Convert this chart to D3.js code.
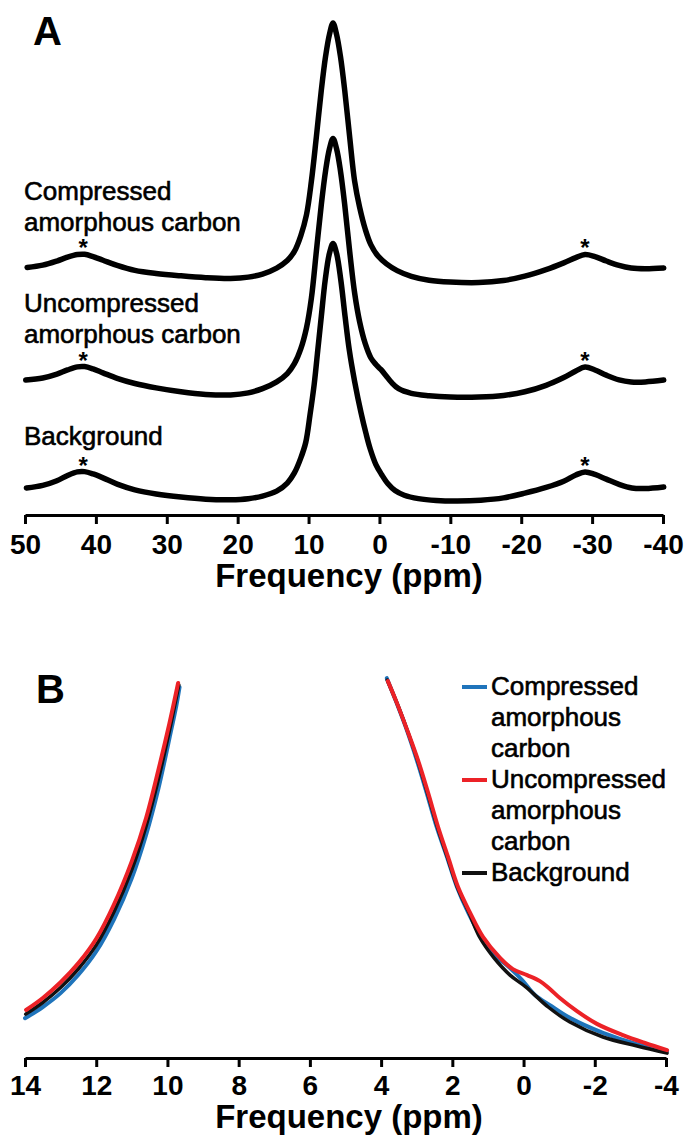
<!DOCTYPE html>
<html><head><meta charset="utf-8">
<script src="https://cdn.jsdelivr.net/npm/d3@7"></script>
<style>
body{margin:0;background:#fff}
svg{display:block}
text{font-family:"Liberation Sans",Arial,Helvetica,sans-serif;fill:#000}
.lbl{stroke:#000;stroke-width:0.6px}
</style>
</head><body>
<svg id="chart" width="686" height="1141"></svg>
<script>
// ---------- data ----------
const ticksA = [50, 40, 30, 20, 10, 0, -10, -20, -30, -40];
const ticksB = [14, 12, 10, 8, 6, 4, 2, 0, -2, -4];
const axisTitle = "Frequency (ppm)";
const panelLetters = ["A", "B"];
const labelLinesA = [["Compressed", "amorphous carbon"], ["Uncompressed", "amorphous carbon"], ["Background"]];
const legendLinesB = [["Compressed", "amorphous", "carbon"], ["Uncompressed", "amorphous", "carbon"], ["Background"]];
const offsetsA = [84, 40, 0];          // vertical stacking of the three spectra in panel A
const sidebandPpm = [41.8, -29.0];     // spinning sidebands marked with *
const sidebandHeight = [10.9, 11.7, 11.3];

// panel A spectra: [ppm, intensity]
const compressedA = [[49.7,5.8],[47.5,6.7],[45.5,8.3],[44.0,9.8],[42.6,10.8],[41.6,10.9],[40.4,10.0],[39.0,8.6],[37.0,6.6],[34.5,4.7],[31.5,3.5],[28.0,2.6],[24.5,1.9],[21.0,1.6],[18.5,2.1],[16.5,3.3],[14.5,5.6],[13.0,8.5],[12.0,12.0],[11.1,18.0],[10.3,26],[9.6,39],[8.9,56],[8.2,74],[7.6,87],[7.05,95.5],[6.55,99.8],[6.05,95.5],[5.5,87],[4.9,74],[4.2,56],[3.5,39],[2.8,29],[2.0,20.5],[1.2,14.5],[0.2,10.2],[-1.0,7.2],[-2.5,4.6],[-4.5,2.4],[-7,0.9],[-10,0.2],[-14,0],[-17.5,0.8],[-20.5,2.5],[-23.5,5.0],[-26.0,7.6],[-27.7,9.6],[-29.0,10.8],[-30.4,10.0],[-32.0,8.3],[-33.8,6.6],[-35.5,5.6],[-37.5,5.3],[-40.1,5.6]];
const uncompressedA = [[49.9,6.5],[47.5,7.3],[45.5,8.8],[44.0,10.4],[42.6,11.6],[41.6,11.7],[40.4,10.8],[39.0,9.3],[37.0,7.2],[34.5,5.2],[31.5,3.5],[28.0,2.0],[24.5,1.0],[21.0,0.8],[18.5,1.6],[16.5,3.2],[14.5,5.8],[13.0,9.0],[12.0,12.8],[11.1,18.5],[10.3,26.5],[9.6,38],[8.9,56],[8.2,74],[7.6,87],[7.05,95.5],[6.55,99.4],[6.05,95.5],[5.5,87],[4.9,74],[4.2,56],[3.5,40],[2.8,29],[2.0,20.5],[1.2,15],[0.5,12.5],[-0.2,10.6],[-0.9,8.3],[-1.7,5.6],[-2.7,3.2],[-4.5,1.4],[-7,0.5],[-10,0],[-14,0],[-17.5,0.6],[-20.5,2.0],[-23.5,4.5],[-26.0,7.5],[-27.7,10.0],[-29.0,11.5],[-30.4,10.4],[-32.0,8.4],[-33.8,6.6],[-35.5,5.8],[-37.5,5.8],[-40.1,6.5]];
const backgroundA = [[49.8,5.0],[47.5,6.0],[45.5,7.8],[44.0,9.8],[42.6,11.2],[41.6,11.3],[40.4,10.4],[39.0,8.9],[37.0,6.5],[34.5,4.3],[31.5,2.7],[28.0,1.5],[24.5,0.7],[21.0,0.5],[18.5,0.9],[16.5,1.9],[14.5,3.8],[13.0,6.9],[12.0,10.8],[11.1,16.5],[10.4,22.5],[9.8,33],[9.2,45],[8.7,58],[8.2,71],[7.65,85],[7.05,95.3],[6.55,99.0],[6.05,95.3],[5.45,85],[4.85,71],[4.25,58],[3.5,46],[2.6,34],[1.9,26],[1.3,20],[0.5,14],[-0.3,10.2],[-1.2,6.6],[-2.2,4.0],[-3.5,2.2],[-5.5,0.9],[-8,0.2],[-11,0],[-14.3,0.3],[-17.5,1.2],[-20.5,3.0],[-23.5,5.2],[-26.0,7.6],[-27.7,10.0],[-29.0,11.2],[-30.4,10.2],[-32.0,8.4],[-33.8,6.4],[-35.6,5.0],[-37.5,4.8],[-40.1,5.4]];

// panel B spectra (expanded view): [ppm, intensity]
const compressedBLeft = [[14.0,10.6],[13.5,13.6],[13.0,17.3],[12.5,22.2],[12.0,28.4],[11.5,37.0],[11.0,48.0],[10.6,59.5],[10.25,72.0],[9.95,85.0],[9.75,94.0],[9.66,98.9]];
const uncompressedBLeft = [[13.97,12.8],[13.5,16.0],[13.0,20.2],[12.5,25.3],[12.0,31.8],[11.5,41.0],[11.0,52.5],[10.6,64.0],[10.25,77.0],[9.95,89.0],[9.70,100]];
const backgroundBLeft = [[13.98,11.7],[13.5,14.8],[13.0,18.8],[12.5,23.8],[12.0,30.1],[11.5,39.0],[11.0,50.2],[10.6,61.8],[10.25,74.5],[9.95,87.0],[9.68,99.5]];
const compressedBRight = [[3.84,101.3],[3.59,95.3],[3.31,88.3],[3.0,79.5],[2.72,70.7],[2.44,61.6],[2.15,53.6],[1.87,45.6],[1.55,38.7],[1.19,32.3],[0.77,27.2],[0.38,24.0],[0.04,20.8],[-0.32,16.8],[-0.74,14.1],[-1.30,10.7],[-2.23,6.7],[-3.19,3.7],[-4.03,1.9]];
const uncompressedBRight = [[3.81,100.5],[3.55,94.5],[3.27,87.5],[2.96,79.3],[2.68,70.7],[2.40,61.6],[2.12,53.6],[1.84,45.6],[1.50,38.7],[1.14,32.3],[0.66,26.7],[0.30,23.7],[-0.10,22.1],[-0.46,20.5],[-0.74,18.4],[-1.02,16.0],[-1.50,12.5],[-2.06,9.1],[-2.79,6.1],[-3.41,4.0],[-4.03,2.1]];
const backgroundBRight = [[3.83,100.8],[3.57,95.0],[3.29,88.0],[2.98,79.5],[2.70,70.7],[2.42,61.6],[2.14,53.6],[1.86,45.6],[1.53,38.7],[1.22,32.0],[0.83,26.7],[0.38,22.1],[-0.07,18.9],[-0.69,13.6],[-1.30,9.6],[-2.23,5.6],[-3.19,3.2],[-4.03,1.3]];
const colorsB = ["#1f74bb", "#ec2227", "#111111"];

// ---------- drawing ----------
const svg = d3.select("#chart");
svg.append("rect").attr("width", 686).attr("height", 1141).attr("fill", "#fff");

const xA = d3.scaleLinear().domain([50, -40]).range([25, 663]);
const yA = d3.scaleLinear().domain([0, 185]).range([501, 20]);
const xB = d3.scaleLinear().domain([14, -4]).range([25, 666]);
const yB = d3.scaleLinear().domain([0, 100]).range([1058, 683]);

function drawAxis(scale, ticks, yPos, labelBase, titleBase) {
  const g = svg.append("g").attr("transform", `translate(0,${yPos})`)
    .call(d3.axisBottom(scale).tickValues(ticks).tickSize(9).tickSizeOuter(0).tickFormat(d => String(d)));
  g.select(".domain").attr("stroke", "#000").attr("stroke-width", 3);
  g.selectAll(".tick line").attr("stroke", "#000").attr("stroke-width", 3);
  g.selectAll(".tick text").attr("y", labelBase - yPos).attr("dy", null)
    .style("font-size", "28px").style("font-weight", "bold").attr("fill", "#000");
  svg.append("text").attr("x", 349).attr("y", titleBase).attr("text-anchor", "middle")
    .style("font-size", "33px").style("font-weight", "bold").text(axisTitle);
}

// Panel A
const lineA = (off) => d3.line().x(d => xA(d[0])).y(d => yA(d[1] + off)).curve(d3.curveCatmullRom.alpha(0.5));
[compressedA, uncompressedA, backgroundA].forEach((s, i) => {
  svg.append("path").datum(s).attr("d", lineA(offsetsA[i]))
    .attr("fill", "none").attr("stroke", "#000").attr("stroke-width", 5.5)
    .attr("stroke-linejoin", "round").attr("stroke-linecap", "round");
  sidebandPpm.forEach(p => {
    svg.append("text").attr("x", xA(p)).attr("y", yA(offsetsA[i] + sidebandHeight[i]) + 2)
      .attr("text-anchor", "middle").style("font-size", "24px").style("font-weight", "bold").text("*");
  });
});
const labelBaseA = [200, 312, 445];
labelLinesA.forEach((lines, i) => {
  lines.forEach((t, j) => {
    svg.append("text").attr("class", "lbl").attr("x", 24).attr("y", labelBaseA[i] + j * 30.5)
      .style("font-size", "26px").text(t);
  });
});
drawAxis(xA, ticksA, 515, 554, 587);
svg.append("text").attr("x", 33).attr("y", 45).style("font-size", "40px").style("font-weight", "bold").text(panelLetters[0]);

// Panel B
const lineB = d3.line().x(d => xB(d[0])).y(d => yB(d[1])).curve(d3.curveCatmullRom.alpha(0.5));
const seriesB = [[compressedBLeft, compressedBRight, 0], [backgroundBLeft, backgroundBRight, 2], [uncompressedBLeft, uncompressedBRight, 1]];
seriesB.forEach(([l, r, ci]) => {
  [l, r].forEach(s => {
    svg.append("path").datum(s).attr("d", lineB)
      .attr("fill", "none").attr("stroke", colorsB[ci]).attr("stroke-width", ci === 2 ? 3.5 : 4)
      .attr("stroke-linejoin", "round").attr("stroke-linecap", "round");
  });
});
drawAxis(xB, ticksB, 1058, 1095, 1128);
svg.append("text").attr("x", 36).attr("y", 703).style("font-size", "40px").style("font-weight", "bold").text(panelLetters[1]);

// legend B
const legendFirstBase = [695, 788, 881];
legendLinesB.forEach((lines, i) => {
  svg.append("line").attr("x1", 462).attr("x2", 487)
    .attr("y1", legendFirstBase[i] - 8).attr("y2", legendFirstBase[i] - 8)
    .attr("stroke", colorsB[i]).attr("stroke-width", 4);
  lines.forEach((t, j) => {
    svg.append("text").attr("class", "lbl").attr("x", 491).attr("y", legendFirstBase[i] + j * 31)
      .style("font-size", "26px").text(t);
  });
});
</script>
</body></html>
